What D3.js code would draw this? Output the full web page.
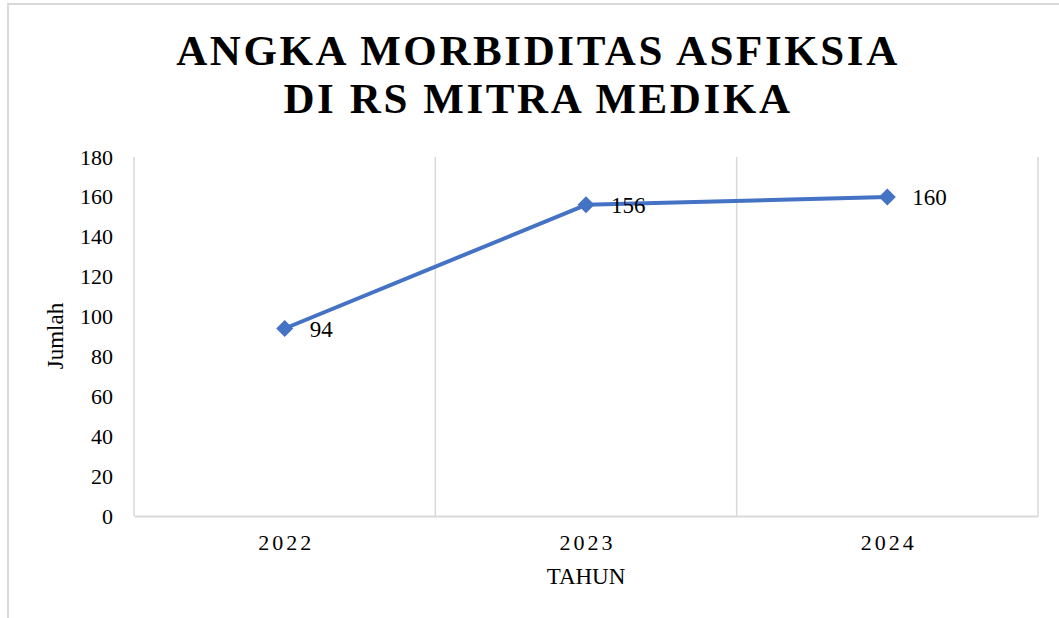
<!DOCTYPE html>
<html>
<head>
<meta charset="utf-8">
<script src="https://cdn.jsdelivr.net/npm/d3@7"></script>
<style>
  body { margin: 0; background: #fff; }
  text { font-family: "Liberation Serif", "Times New Roman", serif; fill: #000; }
</style>
</head>
<body>
<svg id="chart" width="1059" height="618"></svg>
<script>
const years = ["2022", "2023", "2024"]
const counts = [94, 156, 160]
const yTicks = [0, 20, 40, 60, 80, 100, 120, 140, 160, 180]
const titleLines = ["ANGKA MORBIDITAS ASFIKSIA", "DI RS MITRA MEDIKA"]

const margin = {top: 157, right: 21, bottom: 102, left: 134}
const width = 1059 - margin.left - margin.right
const height = 618 - margin.top - margin.bottom

const svg = d3.select('#chart')

// outer chart frame (cropped at right/bottom)
svg.append('rect')
  .attr('x', 8).attr('y', 4)
  .attr('width', 1080).attr('height', 700)
  .attr('fill', 'none')
  .attr('stroke', '#d9d9d9')
  .attr('stroke-width', 2)

svg.append('g')
  .selectAll('text')
  .data(titleLines)
  .join('text')
    .attr('x', 538)
    .attr('y', (d, i) => 65 + i * 48)
    .attr('text-anchor', 'middle')
    .style('font-size', '43px')
    .style('font-weight', 'bold')
    .style('letter-spacing', '2.6px')
    .text(d => d)

const chart = svg.append('g')
  .attr('transform', `translate(${margin.left}, ${margin.top})`)

const xScale = d3.scaleBand()
  .domain(years)
  .range([0, width])

const yScale = d3.scaleLinear()
  .domain([0, 180])
  .range([height, 0])

// vertical gridlines at category boundaries
const bounds = years.map(d => xScale(d)).concat([width])
chart.append('g')
  .selectAll('line')
  .data(bounds)
  .join('line')
    .attr('x1', d => d).attr('x2', d => d)
    .attr('y1', 0).attr('y2', height)
    .attr('stroke', '#d9d9d9')
    .attr('stroke-width', 1.5)

// x axis
const xAxis = chart.append('g')
  .attr('transform', `translate(0, ${height})`)
  .call(d3.axisBottom(xScale).tickSize(0).tickPadding(0))
xAxis.select('.domain').attr('stroke', '#d9d9d9').attr('stroke-width', 2)
xAxis.selectAll('text')
  .attr('y', 34).attr('dy', 0)
  .attr('dx', '1.5px')
  .style('font-size', '22px')
  .style('letter-spacing', '3px')
  .style('font-family', '"Liberation Serif", serif')

// y axis
const yAxis = chart.append('g')
  .call(d3.axisLeft(yScale).tickValues(yTicks).tickSize(0).tickPadding(21))
yAxis.select('.domain').remove()
yAxis.selectAll('text')
  .style('font-size', '22px')
  .style('font-family', '"Liberation Serif", serif')

// axis titles
svg.append('text')
  .attr('x', 586).attr('y', 584)
  .attr('text-anchor', 'middle')
  .style('font-size', '23px')
  .text('TAHUN')

svg.append('text')
  .attr('transform', 'translate(63, 336) rotate(-90)')
  .attr('text-anchor', 'middle')
  .style('font-size', '23px')
  .text('Jumlah')

const data = years.map((y, i) => ({year: y, value: counts[i]}))
const cx = d => xScale(d.year) + xScale.bandwidth() / 2

chart.append('path')
  .datum(data)
  .attr('fill', 'none')
  .attr('stroke', '#4472c4')
  .attr('stroke-width', 4)
  .attr('stroke-linejoin', 'round')
  .attr('d', d3.line().x(cx).y(d => yScale(d.value)))

chart.append('g')
  .selectAll('path')
  .data(data)
  .join('path')
    .attr('transform', d => `translate(${cx(d)}, ${yScale(d.value)})`)
    .attr('d', 'M0,-8.5L8.5,0L0,8.5L-8.5,0Z')
    .attr('fill', '#4472c4')

chart.append('g')
  .selectAll('text')
  .data(data)
  .join('text')
    .attr('x', d => cx(d) + 25)
    .attr('y', d => yScale(d.value) + 8)
    .style('font-size', '23px')
    .text(d => d.value)
</script>
</body>
</html>
